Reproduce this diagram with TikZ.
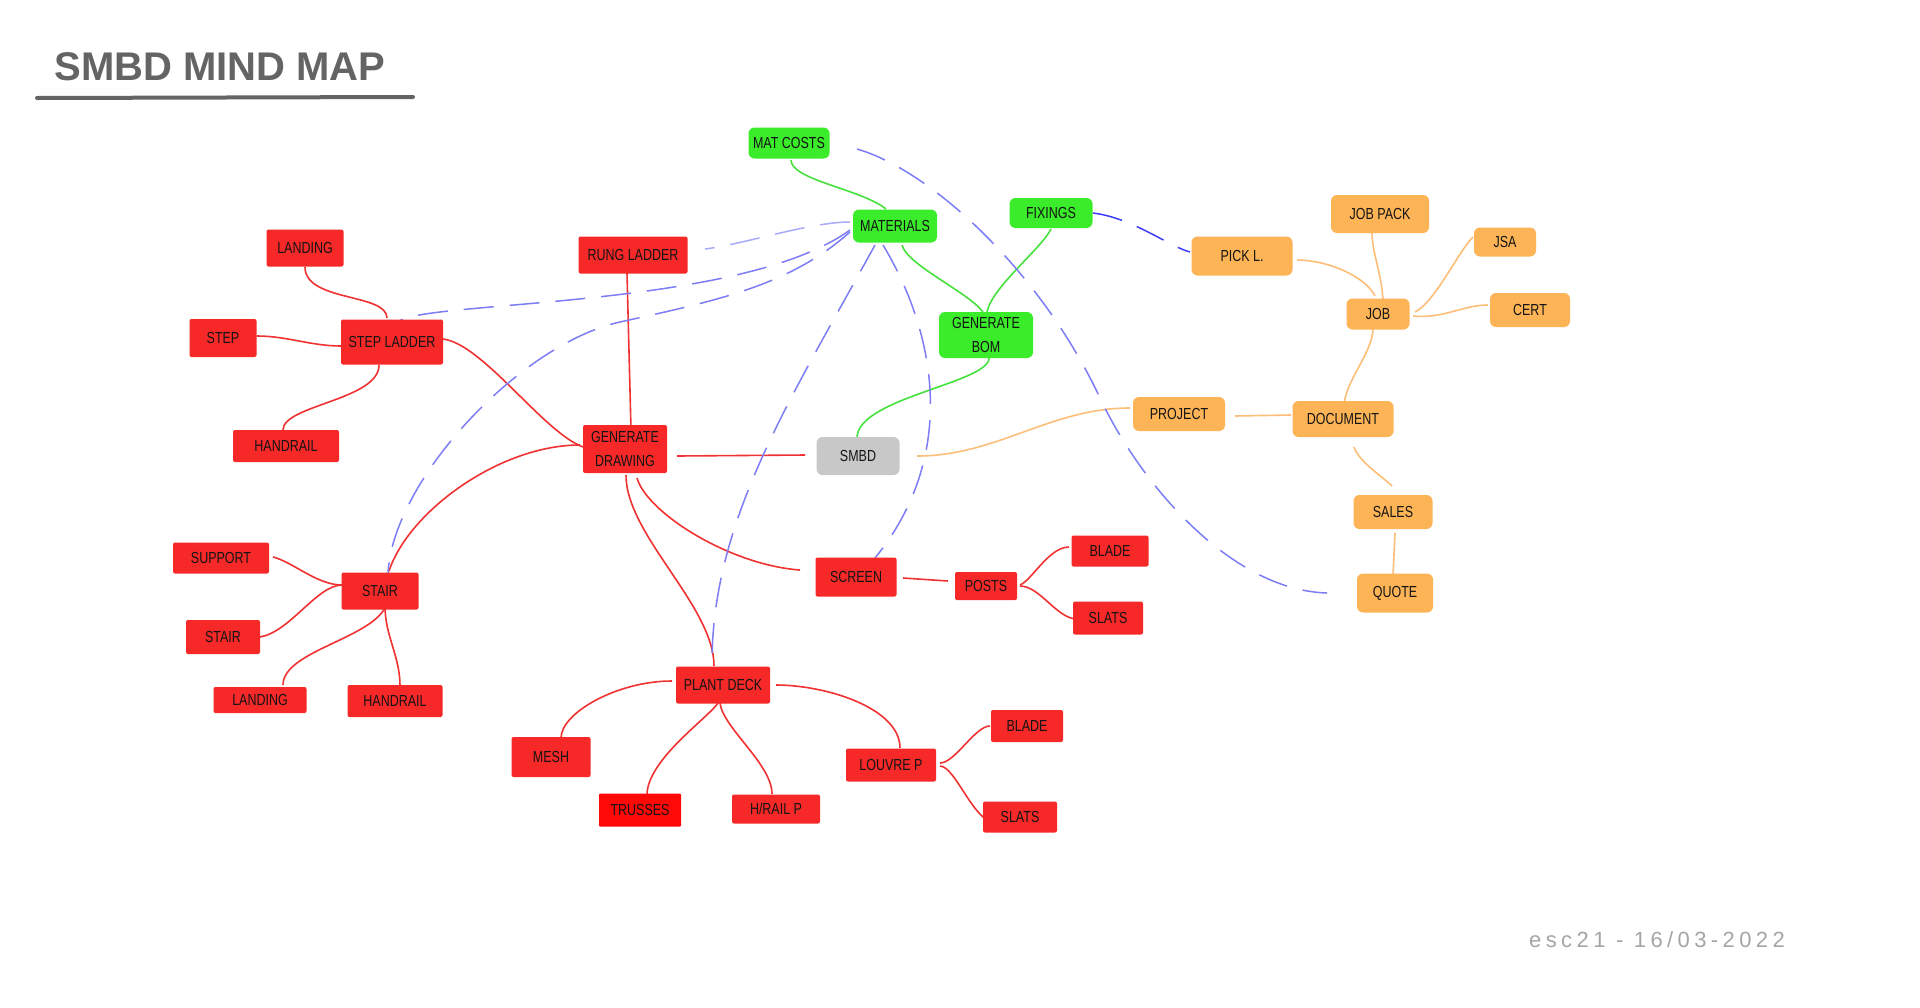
\documentclass[tikz,border=0pt]{standalone}
\usepackage{fontspec}
\setmainfont{Liberation Sans}
\newfontfamily\handfont[FakeStretch=0.78]{Liberation Sans}
\newfontfamily\titlefont{Liberation Sans}
\newfontfamily\signfont[LetterSpace=20]{Liberation Sans}
\usetikzlibrary{calc}
\pgfdeclarelayer{background}
\pgfsetlayers{background,main}

% marker fills
\definecolor{mkred}{RGB}{246,40,40}
\definecolor{mkredhot}{RGB}{255,8,8}
\definecolor{mkgreen}{RGB}{58,236,42}
\definecolor{mkorange}{RGB}{253,180,86}
\definecolor{mkgrey}{RGB}{200,200,200}
% connector inks
\definecolor{lnred}{RGB}{240,50,50}
\definecolor{lngreen}{RGB}{70,225,60}
\definecolor{lnorange}{RGB}{253,190,120}
\definecolor{lnblue}{RGB}{125,125,245}
\definecolor{lnbluelt}{RGB}{170,170,250}
\definecolor{lnbluedk}{RGB}{60,60,250}
\definecolor{ink}{RGB}{20,20,20}
\definecolor{pencil}{RGB}{100,100,100}
\definecolor{signgrey}{RGB}{165,165,165}

\tikzset{
  sz/.style 2 args={minimum width=#1*0.5pt, minimum height=#2*0.5pt},
  topic/.style={inner sep=0pt, font=\handfont\fontsize{8}{12}\selectfont, text=ink, align=center},
  redbox/.style={topic, fill=mkred, rounded corners=1pt},
  hotbox/.style={topic, fill=mkredhot, rounded corners=0.5pt},
  greenbox/.style={topic, fill=mkgreen, rounded corners=3pt},
  orangebox/.style={topic, fill=mkorange, rounded corners=3pt},
  greybox/.style={topic, fill=mkgrey, rounded corners=3pt},
  redln/.style={draw=lnred, line width=0.8pt},
  greenln/.style={draw=lngreen, line width=0.8pt},
  orangeln/.style={draw=lnorange, line width=0.8pt},
  blueln/.style={draw=lnblue, line width=0.75pt, dash pattern=on 15pt off 8pt},
}

\begin{document}
\begin{tikzpicture}[x=0.5pt, y=-0.5pt]
\useasboundingbox (0,0) rectangle (1920,1007);

% heading
\node[font=\titlefont\bfseries\fontsize{20}{24}\selectfont, text=pencil, inner sep=0pt] (title) at (220,67) {SMBD MIND MAP};
\coordinate (ulA) at (37,98);
\coordinate (ulB) at (413,97);
\draw[pencil, line width=2pt, line cap=round] (ulA) -- (ulB);

% centre
\node[greybox, sz={83}{38}] (smbd) at (858,456) {SMBD};

% drawings branch (red)
\node[redbox, sz={84}{48}] (gendraw) at (625,449) {GENERATE\\DRAWING};
\node[redbox, sz={109}{37}] (rung) at (633,255) {RUNG LADDER};
\node[redbox, sz={102}{45}] (stepl) at (392,342) {STEP LADDER};
\node[redbox, sz={77}{37}] (landA) at (305,248) {LANDING};
\node[redbox, sz={67}{38}] (step) at (223,338) {STEP};
\node[redbox, sz={106}{32}] (hrailA) at (286,446) {HANDRAIL};
\node[redbox, sz={77}{37}] (stair) at (380,591) {STAIR};
\node[redbox, sz={96}{31}] (support) at (221,558) {SUPPORT};
\node[redbox, sz={74}{34}] (stairB) at (223,637) {STAIR};
\node[redbox, sz={93}{26}] (landB) at (260,700) {LANDING};
\node[redbox, sz={95}{32}] (hrailB) at (395,701) {HANDRAIL};
\node[redbox, sz={81}{39}] (screen) at (856,577) {SCREEN};
\node[redbox, sz={62}{28}] (posts) at (986,586) {POSTS};
\node[redbox, sz={77}{31}] (bladeA) at (1110,551) {BLADE};
\node[redbox, sz={70}{33}] (slatsA) at (1108,618) {SLATS};
\node[redbox, sz={94}{37}] (deck) at (723,685) {PLANT DECK};
\node[redbox, sz={79}{40}] (mesh) at (551,757) {MESH};
\node[hotbox, sz={82}{33}] (trusses) at (640,810) {TRUSSES};
\node[redbox, sz={88}{29}] (hrailP) at (776,809) {H/RAIL P};
\node[redbox, sz={90}{33}] (louvre) at (891,765) {LOUVRE P};
\node[redbox, sz={72}{32}] (bladeB) at (1027,726) {BLADE};
\node[redbox, sz={74}{31}] (slatsB) at (1020,817) {SLATS};

% materials branch (green)
\node[greenbox, sz={81}{31}] (matcosts) at (789,143) {MAT COSTS};
\node[greenbox, sz={84}{33}] (materials) at (895,226) {MATERIALS};
\node[greenbox, sz={83}{30}] (fixings) at (1051,213) {FIXINGS};
\node[greenbox, sz={94}{46}] (bom) at (986,335) {GENERATE\\BOM};

% project branch (orange)
\node[orangebox, sz={92}{34}] (project) at (1179,414) {PROJECT};
\node[orangebox, sz={101}{36}] (document) at (1343,419) {DOCUMENT};
\node[orangebox, sz={63}{31}] (job) at (1378,314) {JOB};
\node[orangebox, sz={98}{38}] (jobpack) at (1380,214) {JOB PACK};
\node[orangebox, sz={62}{29}] (jsa) at (1505,242) {JSA};
\node[orangebox, sz={80}{34}] (cert) at (1530,310) {CERT};
\node[orangebox, sz={101}{39}] (pickl) at (1242,256) {PICK L.};
\node[orangebox, sz={79}{34}] (sales) at (1393,512) {SALES};
\node[orangebox, sz={76}{39}] (quote) at (1395,593) {QUOTE};

% signature
\node[font=\signfont\fontsize{11}{13}\selectfont, text=signgrey] (sign) at (1657,940) {esc21 - 16/03-2022};

% waypoints of the long dashed links
\coordinate (w2) at (620,322);
\coordinate (w3) at (1100,398);

\begin{pgfonlayer}{background}
\fill[white] (0,0) rectangle (1920,1007);
% red links
\draw[redln] ($(landA)+(0,19)$) .. controls +(0,35) and +(0,-25) .. ($(stepl)+(-5,-24)$);
\draw[redln] ($(step)+(34,-2)$) .. controls +(30,0) and +(-30,0) .. ($(stepl)+(-51,4)$);
\draw[redln] ($(stepl)+(-13,23)$) .. controls +(0,35) and +(0,-25) .. ($(hrailA)+(-3,-16)$);
\draw[redln] ($(stepl)+(51,-3)$) .. controls +(40,5) and +(-40,-15) .. ($(gendraw)+(-42,-2)$);
\draw[redln] ($(rung)+(-6,18)$) -- ($(gendraw)+(6,-19)$);
\draw[redln] ($(gendraw)+(-45,-4)$) .. controls +(-80,0) and +(20,-60) .. ($(stair)+(9,-20)$);
\draw[redln] ($(gendraw)+(52,7)$) -- ($(smbd)+(-53,-1)$);
\draw[redln] ($(gendraw)+(12,29)$) .. controls +(10,35) and +(-70,-5) .. ($(screen)+(-56,-7)$);
\draw[redln] ($(gendraw)+(1,26)$) .. controls +(0,60) and +(0,-60) .. ($(deck)+(-9,-19)$);
\draw[redln] ($(screen)+(47,1)$) -- ($(posts)+(-38,-5)$);
\draw[redln] ($(posts)+(34,-1)$) .. controls +(12,-5) and +(-20,0) .. ($(bladeA)+(-41,-4)$);
\draw[redln] ($(posts)+(34,0)$) .. controls +(20,0) and +(-20,0) .. ($(slatsA)+(-31,1)$);
\draw[redln] ($(stair)+(-38,-6)$) .. controls +(-25,0) and +(20,5) .. ($(support)+(52,-1)$);
\draw[redln] ($(stair)+(-38,-6)$) .. controls +(-25,0) and +(30,-5) .. ($(stairB)+(37,0)$);
\draw[redln] ($(stair)+(7,12)$) .. controls +(-10,35) and +(0,-35) .. ($(landB)+(23,-15)$);
\draw[redln] ($(stair)+(5,15)$) .. controls +(0,30) and +(0,-30) .. ($(hrailB)+(5,-15)$);
\draw[redln] ($(deck)+(-51,-4)$) .. controls +(-55,0) and +(0,-25) .. ($(mesh)+(10,-19)$);
\draw[redln] ($(deck)+(-5,18)$) .. controls +(-10,15) and +(0,-35) .. ($(trusses)+(7,-15)$);
\draw[redln] ($(deck)+(-3,18)$) .. controls +(3,25) and +(0,-30) .. ($(hrailP)+(-4,-15)$);
\draw[redln] ($(deck)+(53,0)$) .. controls +(50,0) and +(0,-40) .. ($(louvre)+(9,-17)$);
\draw[redln] ($(louvre)+(49,-2)$) .. controls +(15,0) and +(-15,0) .. ($(bladeB)+(-37,0)$);
\draw[redln] ($(louvre)+(49,1)$) .. controls +(15,0) and +(-20,0) .. ($(slatsB)+(-26,5)$);

% green links
\draw[greenln] ($(matcosts)+(2,17)$) .. controls +(0,20) and +(-25,-20) .. ($(materials)+(-9,-17)$);
\draw[greenln] ($(materials)+(7,19)$) .. controls +(5,20) and +(-15,-20) .. ($(bom)+(-3,-23)$);
\draw[greenln] ($(fixings)+(0,16)$) .. controls +(-10,20) and +(5,-25) .. ($(bom)+(1,-23)$);
\draw[greenln] ($(bom)+(3,23)$) .. controls +(0,25) and +(0,-40) .. ($(smbd)+(-1,-18)$);

% orange links
\draw[orangeln] ($(smbd)+(59,0)$) .. controls +(80,0) and +(-80,0) .. ($(project)+(-49,-6)$);
\draw[orangeln] ($(project)+(56,2)$) -- ($(document)+(-52,-4)$);
\draw[orangeln] ($(document)+(1,-12)$) .. controls +(0,-25) and +(0,25) .. ($(job)+(-5,14)$);
\draw[orangeln] ($(job)+(-3,-18)$) .. controls +(-10,-20) and +(30,0) .. ($(pickl)+(55,4)$);
\draw[orangeln] ($(job)+(5,-11)$) .. controls +(0,-25) and +(0,20) .. ($(jobpack)+(-8,19)$);
\draw[orangeln] ($(job)+(37,-2)$) .. controls +(20,-10) and +(-15,15) .. ($(jsa)+(-32,-5)$);
\draw[orangeln] ($(job)+(35,2)$) .. controls +(30,3) and +(-25,0) .. ($(cert)+(-42,-5)$);
\draw[orangeln] ($(document)+(11,28)$) .. controls +(5,15) and +(-10,-10) .. ($(sales)+(-1,-26)$);
\draw[orangeln] ($(sales)+(2,21)$) -- ($(quote)+(-2,-18)$);

% dashed blue cross links
\draw[blueln, draw=lnbluelt] ($(materials)+(-45,-4)$) .. controls +(-40,0) and +(40,-5) .. ($(rung)+(72,-6)$);
\draw[blueln] ($(materials)+(-45,4)$) .. controls +(-110,80) and +(22,-22) .. ($(stepl)+(6,-20)$);
\draw[blueln] ($(materials)+(-45,6)$) .. controls +(-60,53) and +(100,-22) .. (w2)
  .. controls +(-100,22) and +(5,-93) .. ($(stair)+(8,-18)$);
\draw[blueln] ($(materials)+(-20,19)$) .. controls +(-85,155) and +(0,-143) .. ($(deck)+(-11,-22)$);
\draw[blueln] ($(materials)+(-12,19)$) .. controls +(57,95) and +(80,-98) .. ($(screen)+(19,-19)$);
\draw[blueln] ($(matcosts)+(68,6)$) .. controls +(73,21) and +(-60,-128) .. (w3)
  .. controls +(40,85) and +(-97,-3) .. ($(quote)+(-68,0)$);
\draw[blueln, draw=lnbluedk] ($(fixings)+(42,0)$) .. controls +(40,5) and +(-20,-5) .. ($(pickl)+(-52,-4)$);
\end{pgfonlayer}
\end{tikzpicture}
\end{document}
